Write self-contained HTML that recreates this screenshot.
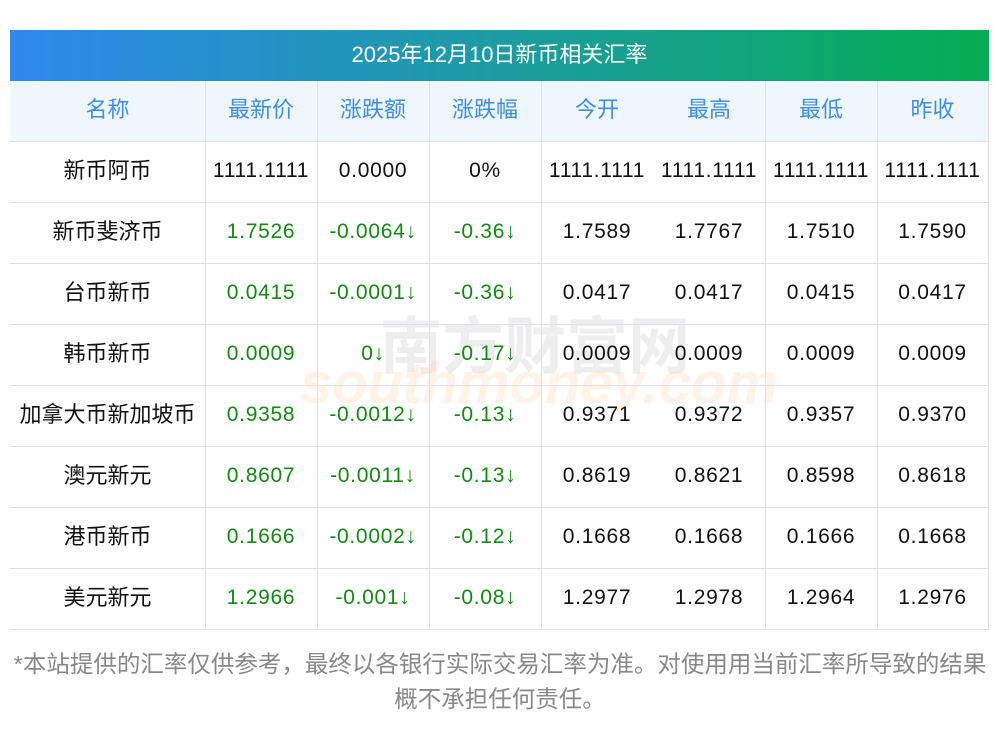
<!DOCTYPE html>
<html><head><meta charset="utf-8"><style>
body{margin:0;width:1000px;height:733px;background:#fff;font-family:"Liberation Sans","Noto Sans CJK SC",sans-serif;position:relative;overflow:hidden}
#title{position:absolute;left:10px;top:30px;width:979px;height:51px;background:linear-gradient(90deg,#2e88ee,#1a9e9a 55%,#04ad52);color:#fff;font-size:22px;text-align:center;line-height:49px}
.hd{position:absolute;left:10px;top:81px;width:978px;height:61px;background:#f0f6fe}
.c{position:absolute;text-align:center;font-size:21px;letter-spacing:0.7px;line-height:57px;color:#111;white-space:nowrap}
.cn{font-size:22px;letter-spacing:0}
.h{color:#3a8ee6;font-size:22px;letter-spacing:0}
.g{color:#128a12}
.hl{position:absolute;left:10px;width:978px;height:1px;background:#dfe1ea}
.vl{position:absolute;top:81px;height:549px;width:1px;background:#dfe1ea}
#wm1{position:absolute;left:380px;top:296px;color:rgba(200,200,200,0.3);font-size:62px;font-weight:bold}
#wm2{position:absolute;left:300px;top:350px;color:rgba(250,200,140,0.22);font-size:58px;font-weight:bold;font-style:italic}
#note{position:absolute;left:0;top:647px;width:1000px;text-align:center;font-size:23.5px;line-height:35px;color:#888}
</style></head><body>
<div id="title">2025年12月10日新币相关汇率</div>
<div class="hd"></div>
<div id="wm1">南方财富网</div>
<div id="wm2">southmoney.com</div>
<div id="grid"></div>
<div id="note">*本站提供的汇率仅供参考，最终以各银行实际交易汇率为准。对使用用当前汇率所导致的结果<br>概不承担任何责任。</div>
<script>
const headers=["名称","最新价","涨跌额","涨跌幅","今开","最高","最低","昨收"];
const names=["新币阿币","新币斐济币","台币新币","韩币新币","加拿大币新加坡币","澳元新元","港币新币","美元新元"];
const latest=["1111.1111","1.7526","0.0415","0.0009","0.9358","0.8607","0.1666","1.2966"];
const change=["0.0000","-0.0064↓","-0.0001↓","0↓","-0.0012↓","-0.0011↓","-0.0002↓","-0.001↓"];
const pct=["0%","-0.36↓","-0.36↓","-0.17↓","-0.13↓","-0.13↓","-0.12↓","-0.08↓"];
const open=["1111.1111","1.7589","0.0417","0.0009","0.9371","0.8619","0.1668","1.2977"];
const high=["1111.1111","1.7767","0.0417","0.0009","0.9372","0.8621","0.1668","1.2978"];
const low=["1111.1111","1.7510","0.0415","0.0009","0.9357","0.8598","0.1666","1.2964"];
const prev=["1111.1111","1.7590","0.0417","0.0009","0.9370","0.8618","0.1668","1.2976"];
const colX=[10,205,317,429,541,653,765,877,988];
const g=document.getElementById('grid');
function cell(t,col,top,cls,name){const d=document.createElement('div');d.className='c '+cls;d.style.left=colX[col]+'px';d.style.width=(colX[col+1]-colX[col])+'px';d.style.top=top+'px';d.textContent=t;


g.appendChild(d);}
headers.forEach((h,i)=>cell(h,i,81,'h','header-'+i));
const cols=[latest,change,pct,open,high,low,prev];
names.forEach((n,r)=>{const top=142+r*61;cell(n,0,top,'cn','name-cell');
cols.forEach((arr,c)=>{const green=r>0&&c<3;cell(arr[r],c+1,top,green?'g':'','value-cell');});});
for(let r=0;r<=8;r++){const l=document.createElement('div');l.className='hl';l.style.top=(142+r*61-1)+'px';


g.appendChild(l);}
[205,317,429,541,765,877,988].forEach(x=>{const l=document.createElement('div');l.className='vl';l.style.left=x+'px';


g.appendChild(l);});
</script>
</body></html>
